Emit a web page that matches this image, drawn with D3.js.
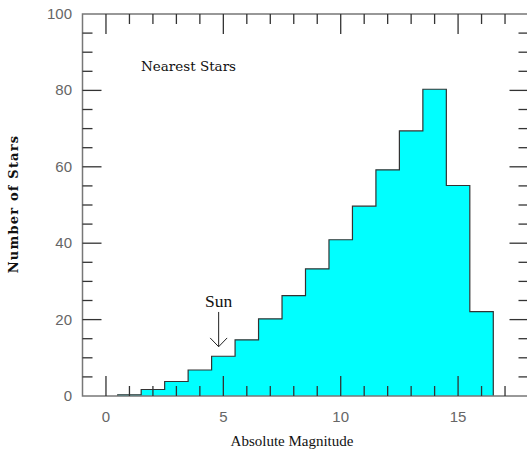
<!DOCTYPE html>
<html>
<head>
<meta charset="utf-8">
<title>Nearest Stars</title>
<script src="https://d3js.org/d3.v7.min.js"></script>
<style>
  body { margin: 0; background: #fff; }
  svg { display: block; }
  .tick-label { font-family: "Liberation Sans", Arial, sans-serif; font-size: 15px; fill: #666; }
  .serif { font-family: "DejaVu Serif", "Liberation Serif", serif; fill: #111; }
  .times { font-family: "Liberation Serif", "Times New Roman", serif; fill: #111; }
</style>
</head>
<body>
<script>
// bins of absolute magnitude (width 1, centred on integers)
const binStarts = [0.5, 1.5, 2.5, 3.5, 4.5, 5.5, 6.5, 7.5, 8.5, 9.5, 10.5, 11.5, 12.5, 13.5, 14.5, 15.5]
const starCounts = [0.3, 1.7, 3.8, 6.8, 10.4, 14.7, 20.2, 26.3, 33.3, 40.9, 49.7, 59.2, 69.4, 80.3, 55.1, 22.1]
const xTickLabels = [0, 5, 10, 15]
const yTickLabels = [0, 20, 40, 60, 80, 100]
const sunMag = 4.8

const W = 527, H = 449
const x = d3.scaleLinear().domain([-1, 18]).range([82.5, 528.5])
const y = d3.scaleLinear().domain([0, 100]).range([396, 14])

const svg = d3.select("body").append("svg").attr("width", W).attr("height", H)

// histogram outline as a step path
let pts = [[binStarts[0], 0]]
binStarts.forEach((b, i) => {
    pts.push([b, starCounts[i]])
    pts.push([b + 1, starCounts[i]])
})
pts.push([binStarts[binStarts.length - 1] + 1, 0])

const line = d3.line().x(d => x(d[0])).y(d => y(d[1]))
svg.append("path").attr("d", line(pts) + "Z").attr("fill", "#00ffff").attr("stroke", "none")
svg.append("path").attr("d", line(pts)).attr("fill", "none").attr("stroke", "#333").attr("stroke-width", 1.2)

// frame
svg.append("rect")
    .attr("x", x(-1)).attr("y", y(100))
    .attr("width", x(18) - x(-1)).attr("height", y(0) - y(100))
    .attr("fill", "none").attr("stroke", "#777").attr("stroke-width", 1.5)

// ticks, all pointing inward
const xt = d3.range(0, 18)
const yt = d3.range(5, 100, 5)
const tk = svg.append("g").attr("stroke", "#333").attr("stroke-width", 1.3)
xt.forEach(v => {
    const len = v % 5 === 0 ? 20 : 10
    tk.append("line").attr("x1", x(v)).attr("x2", x(v)).attr("y1", y(0)).attr("y2", y(0) - len)
    tk.append("line").attr("x1", x(v)).attr("x2", x(v)).attr("y1", y(100)).attr("y2", y(100) + len)
})
yt.forEach(v => {
    const len = v % 20 === 0 ? 19 : 10
    tk.append("line").attr("y1", y(v)).attr("y2", y(v)).attr("x1", x(-1)).attr("x2", x(-1) + len)
    tk.append("line").attr("y1", y(v)).attr("y2", y(v)).attr("x1", x(18)).attr("x2", x(18) - len)
})

// tick labels
svg.selectAll(".xl").data(xTickLabels).join("text")
    .attr("class", "tick-label").attr("x", d => x(d)).attr("y", 422)
    .attr("text-anchor", "middle").text(d => d)
svg.selectAll(".yl").data(yTickLabels).join("text")
    .attr("class", "tick-label").attr("x", 72).attr("y", d => y(d) + 5)
    .attr("text-anchor", "end").text(d => d)

// axis titles
svg.append("text").attr("class", "times")
    .attr("x", 292).attr("y", 446).attr("text-anchor", "middle")
    .style("font-size", "15px").text("Absolute Magnitude")
svg.append("text").attr("class", "serif")
    .attr("transform", "translate(18,204) rotate(-90)").attr("text-anchor", "middle")
    .style("font-size", "13px").style("font-weight", "bold").style("letter-spacing", "1.2px")
    .text("Number of Stars")

svg.append("text").attr("class", "serif")
    .attr("x", 141).attr("y", 71)
    .style("font-size", "13.5px").text("Nearest Stars")

// Sun marker
svg.append("text").attr("class", "times")
    .attr("x", x(sunMag)).attr("y", y(23.4)).attr("text-anchor", "middle")
    .style("font-size", "17.5px").text("Sun")
const ar = svg.append("g").attr("stroke", "#222").attr("stroke-width", 1).attr("fill", "none")
ar.append("line").attr("x1", x(sunMag)).attr("x2", x(sunMag)).attr("y1", y(22)).attr("y2", y(12.9))
ar.append("path").attr("d", `M${x(sunMag) - 8.5},${y(15.2)}L${x(sunMag)},${y(12.9)}L${x(sunMag) + 8.5},${y(15.2)}`)
</script>
</body>
</html>
